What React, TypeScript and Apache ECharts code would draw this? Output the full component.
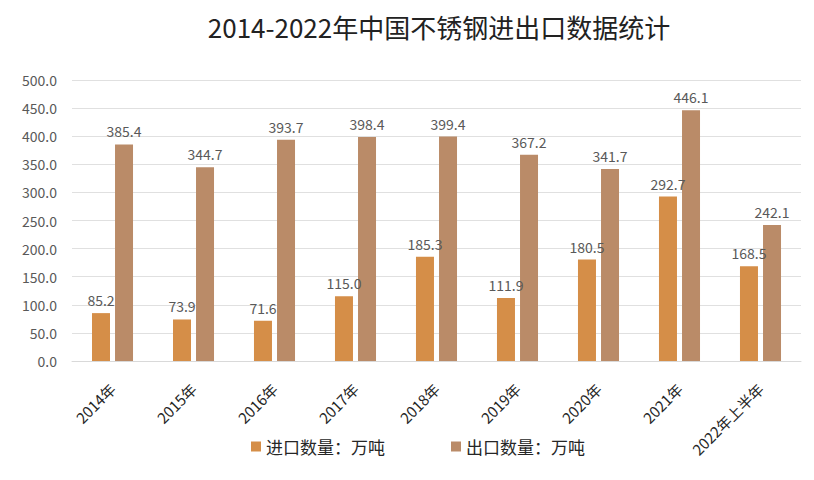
import React, { useEffect, useRef } from "react";
import * as echarts from "echarts";

const categories = ["2014年", "2015年", "2016年", "2017年", "2018年", "2019年", "2020年", "2021年", "2022年上半年"];
const importValues = [85.2, 73.9, 71.6, 115.0, 185.3, 111.9, 180.5, 292.7, 168.5];
const exportValues = [385.4, 344.7, 393.7, 398.4, 399.4, 367.2, 341.7, 446.1, 242.1];
const seriesNames = ["进口数量：万吨", "出口数量：万吨"];
const titleText = "2014-2022年中国不锈钢进出口数据统计";

const FONT = "'Noto Sans CJK SC', 'Noto Sans', sans-serif";

export default function App() {
  const ref = useRef<HTMLDivElement>(null);
  useEffect(() => {
    if (!ref.current) return;
    const chart = echarts.init(ref.current, null, { renderer: "svg" });
    const labelStyle = {
      show: true,
      position: "top" as const,
      distance: 6,
      color: "#595959",
      fontSize: 14,
      fontFamily: FONT,
      formatter: (p: any) => Number(p.value).toFixed(1),
    };
    chart.setOption({
      animation: false,
      backgroundColor: "#ffffff",
      title: {
        text: titleText,
        left: 434,
        textAlign: "center",
        top: 8,
        textStyle: { fontSize: 26, fontWeight: "normal", color: "#222222", fontFamily: FONT },
      },
      grid: { left: 72, right: 13, top: 80, bottom: 119, containLabel: false },
      legend: {
        bottom: 20,
        left: 246,
        itemWidth: 10,
        itemHeight: 10,
        itemGap: 66,
        icon: "rect",
        textStyle: { fontSize: 17, color: "#262626", fontFamily: FONT },
        data: seriesNames,
      },
      xAxis: {
        type: "category",
        data: categories,
        axisLine: { show: true, lineStyle: { color: "#d9d9d9" } },
        axisTick: { show: false },
        axisLabel: { rotate: 45, fontSize: 15, color: "#262626", fontFamily: FONT, margin: 25 },
      },
      yAxis: {
        type: "value",
        min: 0,
        max: 500,
        interval: 50,
        axisLine: { show: false },
        axisTick: { show: false },
        splitLine: { lineStyle: { color: "#e0e0e0" } },
        axisLabel: {
          fontSize: 14,
          color: "#595959",
          fontFamily: FONT,
          margin: 15,
          formatter: (v: number) => v.toFixed(1),
        },
      },
      series: [
        {
          name: seriesNames[0],
          type: "bar",
          data: importValues,
          barWidth: 18,
          barGap: "28%",
          itemStyle: { color: "#D58E48" },
          label: labelStyle,
        },
        {
          name: seriesNames[1],
          type: "bar",
          data: exportValues,
          barWidth: 18,
          itemStyle: { color: "#BA8B68" },
          label: labelStyle,
        },
      ],
    });
    return () => chart.dispose();
  }, []);
  return <div ref={ref} style={{ width: 814, height: 480, position: "absolute", left: 0, top: 0 }} />;
}
